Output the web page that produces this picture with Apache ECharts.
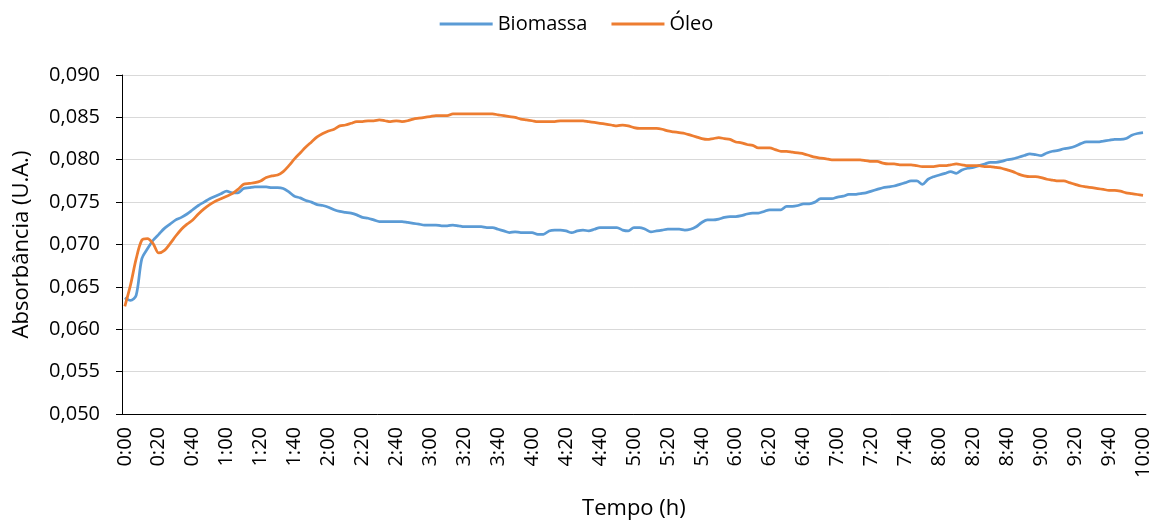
<!DOCTYPE html>
<html lang="pt">
<head>
    <meta charset="UTF-8">
    <title>Absorbância</title>
    <script src="https://cdn.jsdelivr.net/npm/echarts@6/dist/echarts.min.js"></script>
</head>
<body style="margin: 0">
<div style="width: 1153px; height: 525px" id="chart"></div>

<script type="text/javascript">
    // leitura a cada 200 s, de 0:00 a 10:00
    var passoSeg = 200;
    var nPontos = 181;
    var tempos = [];
    for (var i = 0; i < nPontos; i++) {
        var s = i * passoSeg;
        var h = Math.floor(s / 3600);
        var m = Math.floor((s % 3600) / 60);
        var ss = s % 60;
        tempos.push(h + ':' + (m < 10 ? '0' : '') + m + ':' + (ss < 10 ? '0' : '') + ss);
    }

    var biomassa = [
        0.0637, 0.0634, 0.0640, 0.0683, 0.0695, 0.0705, 0.0712, 0.0719, 0.0724, 0.0729,
        0.0732, 0.0736, 0.0741, 0.0746, 0.0750, 0.0754, 0.0757, 0.0760, 0.0763, 0.0761,
        0.0761, 0.0766, 0.0767, 0.0768, 0.0768, 0.0768, 0.0767, 0.0767, 0.0766, 0.0762,
        0.0757, 0.0755, 0.0752, 0.0750, 0.0747, 0.0746, 0.0744, 0.0741, 0.0739, 0.0738,
        0.0737, 0.0735, 0.0732, 0.0731, 0.0729, 0.0727, 0.0727, 0.0727, 0.0727, 0.0727,
        0.0726, 0.0725, 0.0724, 0.0723, 0.0723, 0.0723, 0.0722, 0.0722, 0.0723, 0.0722,
        0.0721, 0.0721, 0.0721, 0.0721, 0.0720, 0.0720, 0.0718, 0.0716, 0.0714, 0.0715,
        0.0714, 0.0714, 0.0714, 0.0712, 0.0712, 0.0716, 0.0717, 0.0717, 0.0716, 0.0714,
        0.0716, 0.0717, 0.0716, 0.0718, 0.0720, 0.0720, 0.0720, 0.0720, 0.0717, 0.0716,
        0.0720, 0.0720, 0.0718, 0.0715, 0.0716, 0.0717, 0.0718, 0.0718, 0.0718, 0.0717,
        0.0718, 0.0721, 0.0726, 0.0729, 0.0729, 0.0730, 0.0732, 0.0733, 0.0733, 0.0734,
        0.0736, 0.0737, 0.0737, 0.0739, 0.0741, 0.0741, 0.0741, 0.0745, 0.0745, 0.0746,
        0.0748, 0.0748, 0.0750, 0.0754, 0.0754, 0.0754, 0.0756, 0.0757, 0.0759, 0.0759,
        0.0760, 0.0761, 0.0763, 0.0765, 0.0767, 0.0768, 0.0769, 0.0771, 0.0773, 0.0775,
        0.0775, 0.0771, 0.0777, 0.0780, 0.0782, 0.0784, 0.0786, 0.0784, 0.0788, 0.0790,
        0.0791, 0.0793, 0.0795, 0.0797, 0.0797, 0.0798, 0.0800, 0.0801, 0.0803, 0.0805,
        0.0807, 0.0806, 0.0805, 0.0808, 0.0810, 0.0811, 0.0813, 0.0814, 0.0816, 0.0819,
        0.0821, 0.0821, 0.0821, 0.0822, 0.0823, 0.0824, 0.0824, 0.0825, 0.0829, 0.0831,
        0.0832
    ];

    var oleo = [
        0.0627, 0.0652, 0.0683, 0.0705, 0.0707, 0.0701, 0.0690, 0.0693, 0.0701, 0.0710,
        0.0718, 0.0724, 0.0729, 0.0736, 0.0742, 0.0747, 0.0751, 0.0754, 0.0757, 0.0760,
        0.0765, 0.0771, 0.0772, 0.0773, 0.0775, 0.0779, 0.0781, 0.0782, 0.0786, 0.0793,
        0.0801, 0.0808, 0.0815, 0.0821, 0.0827, 0.0831, 0.0834, 0.0836, 0.0840, 0.0841,
        0.0843, 0.0845, 0.0845, 0.0846, 0.0846, 0.0847, 0.0846, 0.0845, 0.0846, 0.0845,
        0.0846, 0.0848, 0.0849, 0.0850, 0.0851, 0.0852, 0.0852, 0.0852, 0.0854, 0.0854,
        0.0854, 0.0854, 0.0854, 0.0854, 0.0854, 0.0854, 0.0853, 0.0852, 0.0851, 0.0850,
        0.0848, 0.0847, 0.0846, 0.0845, 0.0845, 0.0845, 0.0845, 0.0846, 0.0846, 0.0846,
        0.0846, 0.0846, 0.0845, 0.0844, 0.0843, 0.0842, 0.0841, 0.0840, 0.0841, 0.0840,
        0.0838, 0.0837, 0.0837, 0.0837, 0.0837, 0.0836, 0.0834, 0.0833, 0.0832, 0.0831,
        0.0829, 0.0827, 0.0825, 0.0824, 0.0825, 0.0826, 0.0825, 0.0824, 0.0821, 0.0820,
        0.0818, 0.0817, 0.0814, 0.0814, 0.0814, 0.0812, 0.0810, 0.0810, 0.0809, 0.0808,
        0.0807, 0.0805, 0.0803, 0.0802, 0.0801, 0.0800, 0.0800, 0.0800, 0.0800, 0.0800,
        0.0800, 0.0799, 0.0798, 0.0798, 0.0796, 0.0795, 0.0795, 0.0794, 0.0794, 0.0794,
        0.0793, 0.0792, 0.0792, 0.0792, 0.0793, 0.0793, 0.0794, 0.0795, 0.0794, 0.0793,
        0.0793, 0.0793, 0.0792, 0.0792, 0.0791, 0.0790, 0.0788, 0.0786, 0.0783, 0.0781,
        0.0780, 0.0780, 0.0779, 0.0777, 0.0776, 0.0775, 0.0775, 0.0773, 0.0771, 0.0769,
        0.0768, 0.0767, 0.0766, 0.0765, 0.0764, 0.0764, 0.0763, 0.0761, 0.0760, 0.0759,
        0.0758
    ];

    var fonte = '"Open Sans", sans-serif';
    var myChart = echarts.init(document.getElementById('chart'));

    var option = {
        animation: false,
        textStyle: {fontFamily: fonte, color: '#000'},
        legend: {
            top: 9,
            left: 'center',
            itemWidth: 53,
            itemHeight: 3,
            itemGap: 24,
            icon: 'rect',
            textStyle: {fontSize: 20, color: '#000', fontFamily: fonte},
            data: ['Biomassa', 'Óleo']
        },
        grid: {left: 122, right: 3, top: 75, bottom: 108},
        xAxis: {
            type: 'category',
            data: tempos,
            boundaryGap: true,
            name: 'Tempo (h)',
            nameLocation: 'middle',
            nameGap: 84,
            nameTextStyle: {fontSize: 22, color: '#000', fontFamily: fonte},
            axisLine: {lineStyle: {color: '#000', width: 1}},
            axisTick: {interval: 0, length: 6, lineStyle: {color: '#000'}},
            axisLabel: {
                interval: 5,
                rotate: 90,
                margin: 13,
                fontSize: 20,
                color: '#000',
                fontFamily: fonte,
                formatter: function (v) {
                    return v.slice(0, v.lastIndexOf(':'));
                }
            },
            splitLine: {show: false}
        },
        yAxis: {
            type: 'value',
            min: 0.05,
            max: 0.09,
            interval: 0.005,
            name: 'Absorbância (U.A.)',
            nameLocation: 'middle',
            nameGap: 89,
            nameTextStyle: {fontSize: 22, color: '#000', fontFamily: fonte},
            axisLine: {show: true, lineStyle: {color: '#000', width: 1}},
            axisTick: {show: true, length: 6, lineStyle: {color: '#000'}},
            axisLabel: {
                fontSize: 20,
                margin: 22,
                color: '#000',
                fontFamily: fonte,
                formatter: function (v) {
                    return v.toFixed(3).replace('.', ',');
                }
            },
            splitLine: {lineStyle: {color: '#D9D9D9', width: 1}}
        },
        series: [
            {
                name: 'Biomassa',
                type: 'line',
                data: biomassa,
                smooth: 0.3,
                symbol: 'none',
                lineStyle: {color: '#5B9BD5', width: 2.75},
                itemStyle: {color: '#5B9BD5'}
            },
            {
                name: 'Óleo',
                type: 'line',
                data: oleo,
                smooth: 0.3,
                symbol: 'none',
                lineStyle: {color: '#ED7D31', width: 2.75},
                itemStyle: {color: '#ED7D31'}
            }
        ]
    };

    myChart.setOption(option);
</script>
</body>
</html>
